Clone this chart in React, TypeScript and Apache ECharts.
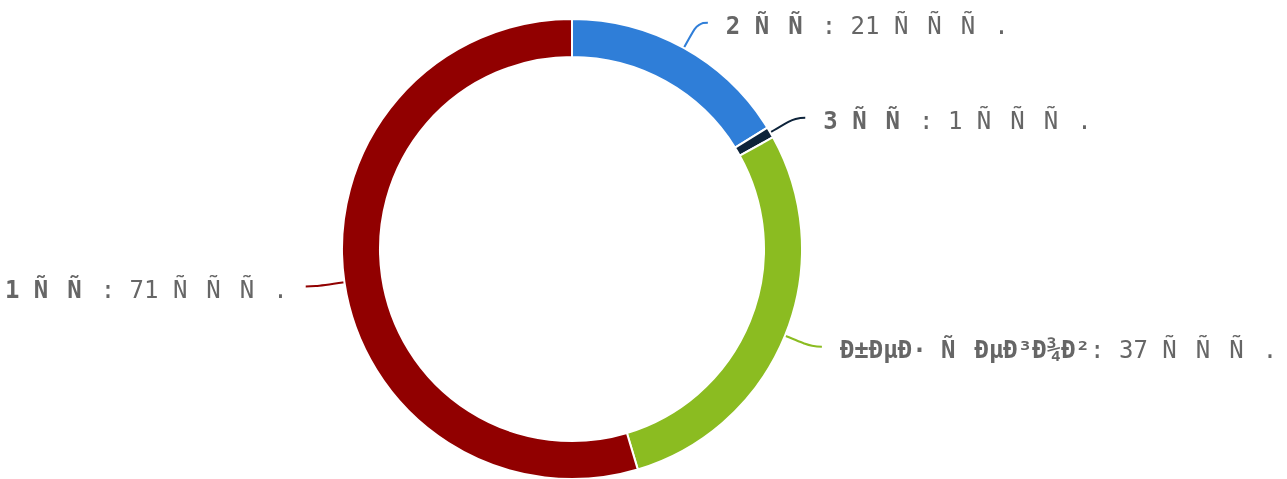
import React, { useEffect, useRef } from "react";
import * as echarts from "echarts";

const categories: string[] = [
  "2 \u00d1\u0088\u00d1\u0082",
  "3 \u00d1\u0088\u00d1\u0082",
  "\u00d0\u00b1\u00d0\u00b5\u00d0\u00b7 \u00d1\u0082\u00d0\u00b5\u00d0\u00b3\u00d0\u00be\u00d0\u00b2",
  "1 \u00d1\u0088\u00d1\u0082",
];
const values: number[] = [21, 1, 37, 71];
const colors: string[] = ["#2f7ed8", "#0d233a", "#8bbc21", "#910000"];
const unit = "\u00d1\u0082\u00d1\u008b\u00d1\u0081.";

export default function App() {
  const ref = useRef<HTMLDivElement>(null);
  useEffect(() => {
    if (!ref.current) return;
    const chart = echarts.init(ref.current, null, { renderer: "svg" });
    chart.setOption({
      animation: false,
      color: colors,
      series: [
        {
          type: "pie",
          center: [572, 249],
          radius: [192, 230],
          startAngle: 90,
          clockwise: true,
          avoidLabelOverlap: false,
          itemStyle: { borderColor: "#ffffff", borderWidth: 2 },
          label: {
            show: true,
            distanceToLabelLine: 18,
            overflow: "none",
            padding: [7, 0, 0, 0],
            formatter: (p: any) => `{b|${p.name}}{c|: ${p.value} ${unit}}`,
            rich: {
              b: {
                fontFamily: "DejaVu Sans Mono",
                fontWeight: "bold",
                fontSize: 24,
                color: "#666666",
              },
              c: {
                fontFamily: "DejaVu Sans Mono",
                fontSize: 24,
                color: "#666666",
              },
            },
          },
          labelLine: { show: true, length: 29, length2: 10, smooth: 0.5, lineStyle: { width: 2 } },
          data: categories.map((n, i) => ({ name: n, value: values[i] })),
        },
      ],
    });
    return () => chart.dispose();
  }, []);
  return (
    <div
      ref={ref}
      style={{ position: "fixed", left: 0, top: 0, width: 1287, height: 479 }}
    />
  );
}
